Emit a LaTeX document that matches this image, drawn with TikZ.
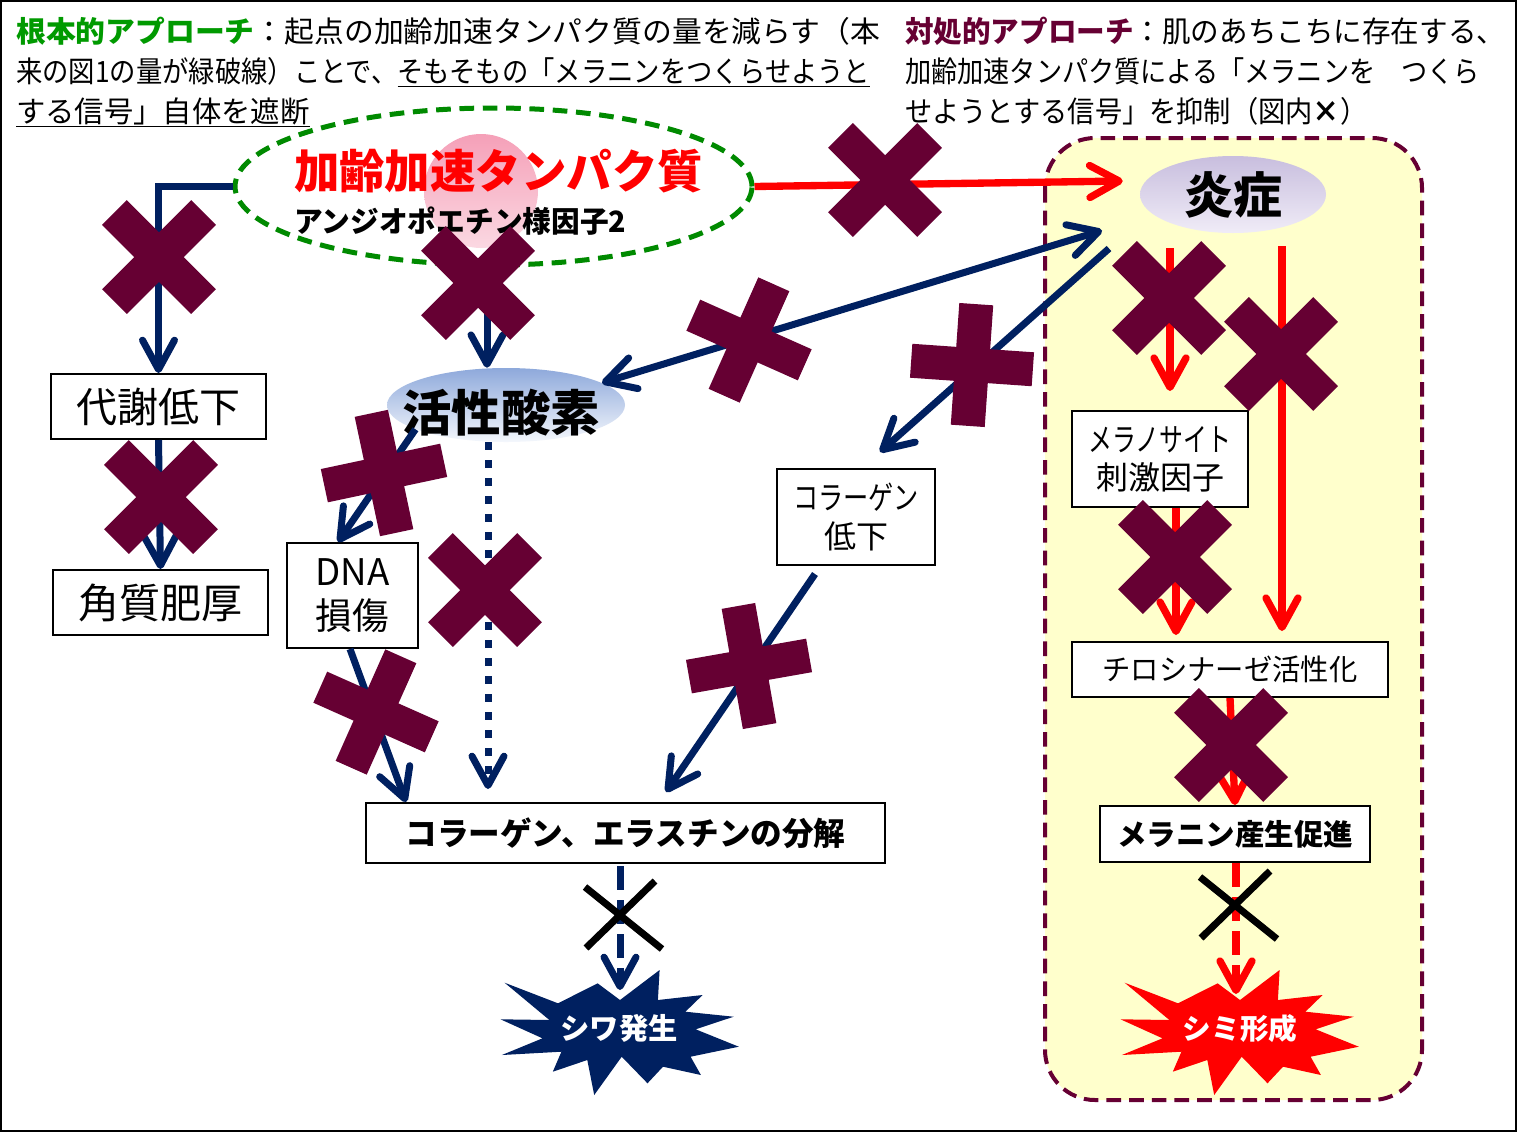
\documentclass[tikz,border=0pt]{standalone}
\usepackage{graphicx}
\usepackage{fontspec}
\setmainfont{Noto Sans CJK JP}
\usetikzlibrary{arrows.meta,shapes.geometric}
\definecolor{mynavy}{HTML}{002060}
\definecolor{mymar}{HTML}{660033}
\definecolor{mygrn}{HTML}{008A00}
\definecolor{ttlgrn}{HTML}{009A00}
\definecolor{myyel}{HTML}{FFFFCC}
\definecolor{kblue}{HTML}{8EA9DB}
\definecolor{kwhite}{HTML}{F4F7FC}
\definecolor{lav1}{HTML}{C8BEDE}
\definecolor{lav2}{HTML}{F0ECF7}
\definecolor{pink1}{HTML}{F5A0B8}
\definecolor{pink2}{HTML}{FBD8E2}
\newcommand\myfs[2]{\fontsize{#1pt}{#2pt}\selectfont}
\newcommand\fitw[2]{\resizebox{#1pt}{\height}{#2}}
\tikzset{
 box/.style={draw=black, line width=1.5pt, fill=white, inner sep=0pt, align=center},
 nv/.style={draw=mynavy, line width=5.25pt, ->},
 rd/.style={draw=red, line width=5.5pt, ->},
 dasharr/.style={dash pattern=on 18pt off 7.5pt},
 dotarr/.style={dash pattern=on 6pt off 7.5pt},
 ttl/.style={inner sep=0pt, anchor=base west, font={\myfs{22}{26}}},
 xmark/.pic={\fill[mymar] (-63,-17.5) rectangle (63,17.5); \fill[mymar] (-17.5,-63) rectangle (17.5,63);},
 pmark/.pic={\fill[mymar] (-61,-17) rectangle (61,17); \fill[mymar] (-17,-61) rectangle (17,61);},
 blkx/.pic={\draw[line width=5.25pt] (-37,-29) -- (40,33) (33,-35) -- (-36,32);},
 burst/.pic={\path[pic actions] (-115.4,-49.3) -- (-62,-28.7) -- (-22.4,-48.7) -- (0,-32) -- (39.6,-62) -- (37.9,-32) -- (82.6,-37) -- (65.4,-20.3) -- (113.6,-15.3) -- (75.7,-2.7) -- (118.8,14.7) -- (70.6,24.7) -- (80.9,43) -- (43,34.7) -- (27.5,51.3) -- (1.7,24.7) -- (-25.8,63) -- (-32.7,28) -- (-67.2,39.7) -- (-58.6,19.7) -- (-118.1,23) -- (-77.5,6.3) -- (-119.5,-12.7) -- (-70.6,-12) -- cycle;},
}
\begin{document}
\begin{tikzpicture}[x=0.75pt,y=-0.75pt,>={Straight Barb[length=22pt,width=24pt,round]}]
\useasboundingbox (0,0) rectangle (1519,1132);
\fill[white] (0,0) rectangle (1519,1132);
\draw[line width=1.1pt] (1,1) rectangle (1516,1131);
% yellow area
\draw[draw=mymar, fill=myyel, line width=3pt, dash pattern=on 11pt off 6pt, rounded corners=37.5pt] (1045,138) rectangle (1422,1100);
% title texts
\node[ttl] (t1) at (16,42) {\fitw{648}{\textcolor{ttlgrn}{\bfseries 根本的アプローチ}：起点の加齢加速タンパク質の量を減らす（本}};
\node[ttl] (t2) at (16,82) {\fitw{640.5}{来の図1の量が緑破線）ことで、\underline{そもそもの「メラニンをつくらせようと}}};
\node[ttl] (t3) at (16,122) {\fitw{220}{\underline{する信号」自体を遮断}}};
\node[ttl] (t4) at (905,42) {\fitw{450}{\textcolor{mymar}{\bfseries 対処的アプローチ}：肌のあちこちに存在する、}};
\node[ttl] (t5) at (905,82) {\fitw{431}{加齢加速タンパク質による「メラニンを　つくら}};
\node[ttl] (t6) at (905,122) {\fitw{346.5}{せようとする信号」を抑制（図内\textbf{×}）}};
% source ellipse
\shade[top color=pink1, bottom color=pink2] (481,191) circle[radius=57];
\node[ellipse, draw=mygrn, line width=3.75pt, dash pattern=on 11pt off 6.5pt, minimum width=387.75pt, minimum height=117.75pt, inner sep=0pt] (ell) at (493.5,186.5) {};
\node[inner sep=0pt, text=red, font={\myfs{34.5}{38}\bfseries}] (kt1) at (498.5,171) {\fitw{306.75}{加齢加速タンパク質}};
\node[inner sep=0pt, anchor=west, font={\myfs{22}{26}\bfseries}] (kt2) at (294,221) {\fitw{249}{アンジオポエチン様因子2}};
% ellipses
\node[ellipse, minimum width=178.5pt, minimum height=55.5pt, top color=kblue, bottom color=kwhite, inner sep=0pt] (kasei) at (506,405) {};
\node[inner sep=0pt, font={\myfs{37}{40}\bfseries}] (kaseit) at (501,413) {活性酸素};
\node[ellipse, minimum width=139.5pt, minimum height=57.75pt, top color=lav1, bottom color=lav2, inner sep=0pt, font={\myfs{36.75}{40}\bfseries}] (enshou) at (1233,194.5) {炎症};
% boxes
\node[box, minimum width=161.25pt, minimum height=48.75pt, font={\myfs{30.75}{36}}] (daisha) at (158.5,406.5) {代謝低下};
\node[box, minimum width=161.25pt, minimum height=48.75pt, font={\myfs{30.75}{36}}] (kaku) at (160.5,602.5) {角質肥厚};
\node[box, minimum width=98.25pt, minimum height=78.75pt, font={\myfs{27.5}{33}}] (dna) at (352.5,595.5) {DNA\\損傷};
\node[box, minimum width=118.5pt, minimum height=72pt, font={\myfs{24}{29.6}}] (colld) at (856,517) {\fitw{94.5}{コラーゲン}\\低下};
\node[box, minimum width=389.25pt, minimum height=45pt, font={\myfs{24}{28}\bfseries}] (bunkai) at (625.5,833) {\fitw{330}{コラーゲン、エラスチンの分解}};
\node[box, minimum width=132pt, minimum height=72pt, font={\myfs{24}{28.5}}] (melano) at (1160,459) {\fitw{107}{メラノサイト}\\刺激因子};
\node[box, minimum width=237pt, minimum height=41.25pt, font={\myfs{22}{26}}] (tyro) at (1230,669.5) {\fitw{191}{チロシナーゼ活性化}};
\node[box, minimum width=202.5pt, minimum height=42pt, font={\myfs{22}{26}\bfseries}] (melan) at (1235,834) {\fitw{177}{メラニン産生促進}};
% bursts
\pic[fill=mynavy] at (620,1032) {burst};
\node[inner sep=0pt, text=white, font={\myfs{22}{26}\bfseries}] (shiwa) at (619,1028) {シワ発生};
\pic[fill=red] at (1240,1032) {burst};
\node[inner sep=0pt, text=white, font={\myfs{21.5}{26}\bfseries}] (shimi) at (1240,1028.5) {シミ形成};
% navy connectors
\draw[nv] (ell.west) -| (daisha.north);
\draw[nv] (daisha.south) -- (kaku.north);
\draw[nv] ([shift={(-6.5,0)}]ell.south) -- ([shift={(-19,0)}]kasei.north);
\draw[nv] (kasei.195) -- ([shift={(-14.5,0)}]dna.north);
\draw[nv] ([shift={(-2.5,0)}]dna.south) -- ([shift={(41,0)}]bunkai.north west);
\draw[nv, dotarr] ([shift={(-18,0)}]kasei.south) -- ([shift={(-137.5,-13)}]bunkai.north);
\draw[nv] ([shift={(-41,8)}]colld.south) -- ([shift={(40.5,-10)}]bunkai.north);
\draw[nv, <->] (kasei.13) -- ([shift={(-131,36)}]enshou.center);
\draw[nv] ([shift={(-124,54)}]enshou.center) -- ([shift={(24,-16)}]colld.north);
\draw[nv, dasharr] ([shift={(-5.5,2)}]bunkai.south) -- ([shift={(1,-38)}]shiwa.center);
% red connectors
\draw[rd] (ell.east) -- ([shift={(-17,-13.5)}]enshou.west);
\draw[rd] ([shift={(-63,53.5)}]enshou.center) -- ([shift={(10,-19)}]melano.north);
\draw[rd] ([shift={(49,51.5)}]enshou.center) -- ([shift={(52,-10)}]tyro.north);
\draw[rd] ([shift={(16,0)}]melano.south) -- ([shift={(-54,-6)}]tyro.north);
\draw[rd] (tyro.south) -- (melan.north);
\draw[rd, dasharr] ([shift={(1,0)}]melan.south) -- ([shift={(-4,-34.5)}]shimi.center);
% crosses
\pic[rotate=45] at (159,257) {xmark};
\pic[rotate=45] at (478,283) {xmark};
\pic[rotate=45] at (161,497) {xmark};
\pic[rotate=45] at (485,590) {xmark};
\pic[rotate=45] at (885,180) {xmark};
\pic[rotate=45] at (1169,298) {xmark};
\pic[rotate=45] at (1281,354) {xmark};
\pic[rotate=45] at (1175,557) {xmark};
\pic[rotate=45] at (1231,745) {xmark};
\pic[rotate=12] at (384,473) {pmark};
\pic[rotate=-24] at (376,712) {pmark};
\pic[rotate=10] at (749,666) {pmark};
\pic[rotate=-24] at (749,340) {pmark};
\pic[rotate=-4] at (972,365) {pmark};
\pic at (622,916) {blkx};
\pic at (1237,906) {blkx};
\end{tikzpicture}
\end{document}
